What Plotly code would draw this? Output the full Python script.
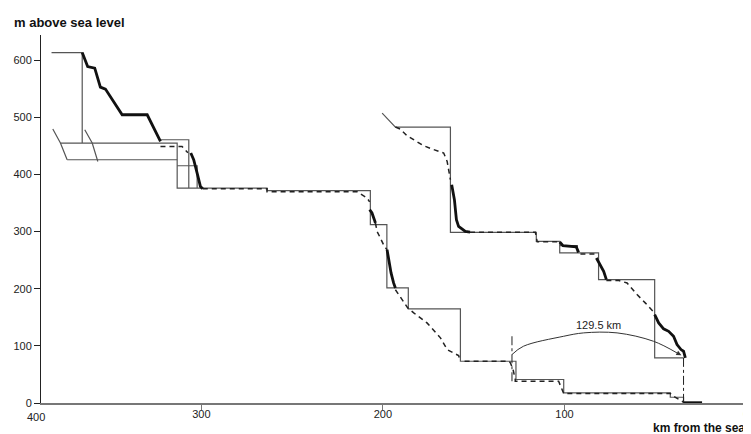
import plotly.graph_objects as go

# ---- data (km from the sea, m above sea level) ----
stair_km = [382.5, 365.6, 365.6, None,
            377.6, 313.3, 313.3, 263.8, 263.8, 206.9, 206.9, 197.8, 197.8, 186.0, 186.0,
            157.3, 157.3, 126.7, 126.7, 100.4, 100.4, 41.7, 41.7, 34.4, 34.4, None,
            322.5, 306.9, 306.9, None,
            313.3, 302.3, 302.3, None,
            373.9, 313.3, None,
            381.8, 377.6, 373.9, None,
            364.2, 360.1, 357.0, None,
            200.4, 193.1, 162.8, 162.8, 115.5, 115.5, 102.6, 102.6, 81.2, 81.2, 50.3, 50.3, 34.4, None,
            102.6, 92.9, 92.9]
stair_m = [613.3, 613.3, 454.9, None,
           454.9, 454.9, 376.2, 376.2, 371.5, 371.5, 312.1, 312.1, 201.4, 201.4, 164.7,
           164.7, 73.1, 73.1, 41.1, 41.1, 17.8, 17.8, 10.1, 10.1, 0, None,
           460.7, 460.7, 376.2, None,
           415.2, 415.2, 376.2, None,
           425.7, 425.7, None,
           479.4, 454.9, 425.7, None,
           478.1, 454.9, 422.7, None,
           507.3, 482.9, 482.9, 298.6, 298.6, 282.9, 282.9, 262.6, 262.6, 215.9, 215.9, 79.0, 79.0, None,
           275.3, 275.3, 262.6]

thick_km = [365.6, 362.6, 358.7, 355.6, 352.8, 343.6, 329.8, 322.5, None,
            305.8, 304.2, 302.3, 300.5, 299.2, None,
            207.3, 206.0, 204.7, 204.1, None,
            197.7, 196.8, 195.5, 194.1, 193.1, None,
            162.1, 160.6, 159.5, 158.3, 154.6, 152.0, None,
            102.6, 100.8, 93.5, 92.2, None,
            82.4, 80.2, 78.4, 76.9, None,
            50.3, 48.1, 45.4, 42.6, 39.9, 38.0, 35.8, 34.4, 33.4, None,
            34.4, 24.2]
thick_m = [613.3, 588.8, 586.0, 552.8, 549.3, 504.4, 504.4, 457.7, None,
           437.4, 425.7, 402.4, 379.0, 375.0, None,
           338.3, 332.5, 320.8, 315.0, None,
           268.4, 250.9, 227.6, 210.1, 201.4, None,
           382.0, 355.8, 320.8, 309.1, 300.3, 299.0, None,
           281.8, 275.3, 273.1, 263.6, None,
           253.8, 242.1, 230.4, 215.9, None,
           154.7, 140.2, 129.7, 125.5, 116.8, 102.3, 93.5, 90.6, 79.0, None,
           0.5, 0.5]

dash_km = [322.5, 310.6, 307.4, None,
           299.2, 263.8, 263.8, 214.2, 208.7, 207.3, None,
           204.1, 203.2, 201.4, 199.2, 197.7, None,
           193.1, 186.3, 183.0, 175.7, 168.3, 164.6, 158.3, 157.3, None,
           155.0, 130.5, 129.8, 128.3, 127.1, 127.1, 103.2, 100.4, 100.4, 41.7, 40.7, 35.2, 34.0, None,
           193.1, 190.4, 186.7, 183.0, 177.5, 172.9, 166.5, 164.6, 163.4, 162.8, None,
           152.0, 116.0, 115.5, 115.0, 102.6, None,
           91.2, 83.0, None,
           76.9, 70.0, 65.5, 60.0, 55.5, 51.2, 50.3]
dash_m = [449.0, 449.0, 437.9, None,
          375.0, 375.0, 369.5, 369.5, 358.7, 352.0, None,
          315.0, 300.3, 288.8, 274.1, 268.4, None,
          198.2, 166.4, 157.7, 140.2, 114.0, 93.5, 83.0, 73.1, None,
          73.1, 73.1, 70.3, 58.6, 41.1, 38.1, 38.1, 17.8, 16.6, 16.6, 13.1, 3.1, 0, None,
          482.9, 479.4, 467.7, 460.7, 450.2, 444.4, 437.4, 422.7, 405.2, 390.7, None,
          298.6, 298.6, 290.0, 282.0, 282.0, None,
          260.8, 260.8, None,
          214.2, 214.2, 210.1, 189.7, 175.2, 160.5, 154.7]

dashdot_km = [128.9, 128.9, None, 34.4, 34.4]
dashdot_m = [116.8, 35.3, None, 79.0, 0]

arc_km = [128.9, 122.6, 100.4, 89.4, 71.0, 50.9, 38.0]
arc_m = [84.8, 99.3, 116.8, 122.7, 122.7, 108.0, 87.6]
arc_label = "129.5 km"

y_ticks = [0, 100, 200, 300, 400, 500, 600]
x_ticks = [300, 200, 100, 0]
x_edge_label = "400"

FONT = "Liberation Sans, Arial, sans-serif"

fig = go.Figure()
fig.add_trace(go.Scatter(x=stair_km, y=stair_m, mode="lines",
                         line=dict(color="#555555", width=1.2), hoverinfo="skip"))
fig.add_trace(go.Scatter(x=dash_km, y=dash_m, mode="lines",
                         line=dict(color="#222222", width=1.5, dash="5px,4px"), hoverinfo="skip"))
fig.add_trace(go.Scatter(x=thick_km, y=thick_m, mode="lines",
                         line=dict(color="#111111", width=2.8), hoverinfo="skip"))
fig.add_trace(go.Scatter(x=dashdot_km, y=dashdot_m, mode="lines",
                         line=dict(color="#222222", width=1, dash="dashdot"), hoverinfo="skip"))
fig.add_trace(go.Scatter(x=arc_km, y=arc_m, mode="lines",
                         line=dict(color="#333333", width=1, shape="spline"), hoverinfo="skip"))

annotations = [
    dict(x=35.6, y=83.5, ax=arc_km[-1], ay=arc_m[-1], xref="x", yref="y",
         axref="x", ayref="y", showarrow=True, arrowhead=2, arrowsize=1,
         arrowwidth=1, arrowcolor="#333333", text=""),
    dict(x=81.2, y=137.2, xref="x", yref="y", text=arc_label, showarrow=False,
         font=dict(family=FONT, size=11, color="#222222")),
    dict(x=-0.041, y=1.033, xref="paper", yref="paper", xanchor="left", yanchor="middle",
         text="<b>m above sea level</b>", showarrow=False,
         font=dict(family=FONT, size=13, color="#111111")),
    dict(x=1.002, y=-0.068, xref="paper", yref="paper", xanchor="right", yanchor="middle",
         text="<b>km from the sea</b>", showarrow=False,
         font=dict(family=FONT, size=12, color="#111111")),
    dict(x=0.0085, y=-0.038, xref="paper", yref="paper", xanchor="right", yanchor="middle",
         text=x_edge_label, showarrow=False,
         font=dict(family=FONT, size=11, color="#222222")),
]

# page body adds an 8px offset, so the figure is 8px smaller with matching margins
fig.update_layout(
    width=743, height=426,
    margin=dict(l=33, r=5, t=27, b=31, autoexpand=False),
    paper_bgcolor="white", plot_bgcolor="white",
    showlegend=False,
    annotations=annotations,
    xaxis=dict(range=[388.3, 0], tickvals=x_ticks, showgrid=False, zeroline=False,
               automargin=False, ticklabeloverflow="allow",
               showline=True, linecolor="#777777", linewidth=2,
               ticks="outside", ticklen=5, tickcolor="#777777",
               ticklabelstandoff=-5,
               tickfont=dict(family=FONT, size=11, color="#222222")),
    yaxis=dict(range=[0, 644], tickvals=y_ticks, showgrid=False, zeroline=False,
               automargin=False,
               showline=True, linecolor="#222222", linewidth=1,
               ticks="outside", ticklen=6, tickcolor="#222222",
               tickfont=dict(family=FONT, size=11, color="#222222")),
)

fig.write_html("out.html")
